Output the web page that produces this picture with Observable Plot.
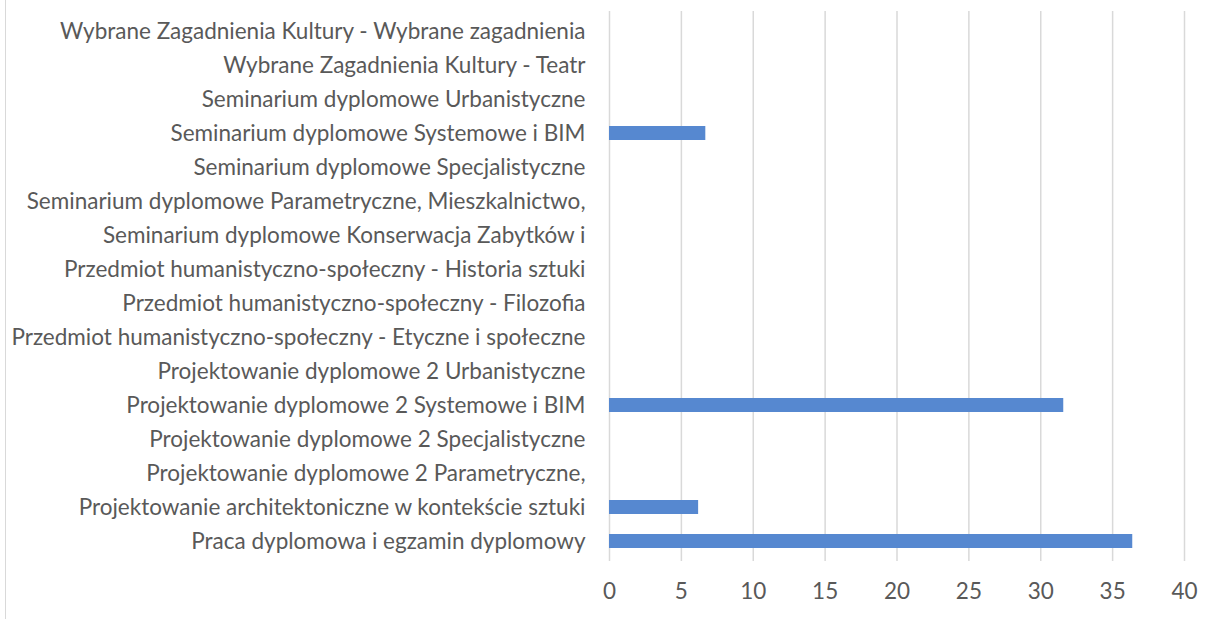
<!DOCTYPE html>
<html>
<head>
<meta charset="utf-8">
<script src="https://cdn.jsdelivr.net/npm/d3@7"></script>
<script src="https://cdn.jsdelivr.net/npm/@observablehq/plot@0.6"></script>
<style>
  html, body { margin: 0; padding: 0; background: #fff; }
  #wrap { position: relative; width: 1220px; height: 619px; overflow: hidden; }
  #border { position: absolute; left: 5px; top: 0; width: 0; height: 619px; border-left: 1.5px solid #d9d9d9; }
  #chart { position: absolute; left: 0; top: 0; }
</style>
</head>
<body>
<div id="wrap"><div id="border"></div><div id="chart"></div></div>
<script>
const categories = [
  "Wybrane Zagadnienia Kultury - Wybrane zagadnienia",
  "Wybrane Zagadnienia Kultury - Teatr",
  "Seminarium dyplomowe Urbanistyczne",
  "Seminarium dyplomowe Systemowe i BIM",
  "Seminarium dyplomowe Specjalistyczne",
  "Seminarium dyplomowe Parametryczne, Mieszkalnictwo,",
  "Seminarium dyplomowe Konserwacja Zabytków i",
  "Przedmiot humanistyczno-społeczny - Historia sztuki",
  "Przedmiot humanistyczno-społeczny - Filozofia",
  "Przedmiot humanistyczno-społeczny - Etyczne i społeczne",
  "Projektowanie dyplomowe 2 Urbanistyczne",
  "Projektowanie dyplomowe 2 Systemowe i BIM",
  "Projektowanie dyplomowe 2 Specjalistyczne",
  "Projektowanie dyplomowe 2 Parametryczne,",
  "Projektowanie architektoniczne w kontekście sztuki",
  "Praca dyplomowa i egzamin dyplomowy"
];
const values = [0, 0, 0, 6.7, 0, 0, 0, 0, 0, 0, 0, 31.6, 0, 0, 6.2, 36.4];
const xTicks = [0, 5, 10, 15, 20, 25, 30, 35, 40];

const data = categories.map((c, i) => ({category: c, value: values[i]}));

const chart = Plot.plot({
  width: 1220,
  height: 619,
  marginLeft: 609,
  marginRight: 36,
  marginTop: 11,
  marginBottom: 58,
  style: {fontFamily: "Lato, sans-serif", fontSize: "22.5px", color: "#595959", background: "transparent"},
  x: {domain: [0, 40], ticks: xTicks, label: null},
  y: {domain: categories, label: null, paddingInner: 0.6, paddingOuter: 0.3},
  marks: [
    Plot.ruleX(xTicks, {stroke: "#d9d9d9", strokeWidth: 1.5, y1: null, y2: null}),
    Plot.barX(data, {x: "value", y: "category", fill: "#5688d0"}),
    Plot.axisX({ticks: xTicks, tickSize: 0, tickPadding: 22, label: null, fill: "#595959", fontSize: 22.5}),
    Plot.axisY({tickSize: 0, tickPadding: 24, label: null, fill: "#595959", fontSize: 22.5})
  ]
});
document.getElementById("chart").appendChild(chart);
</script>
</body>
</html>
